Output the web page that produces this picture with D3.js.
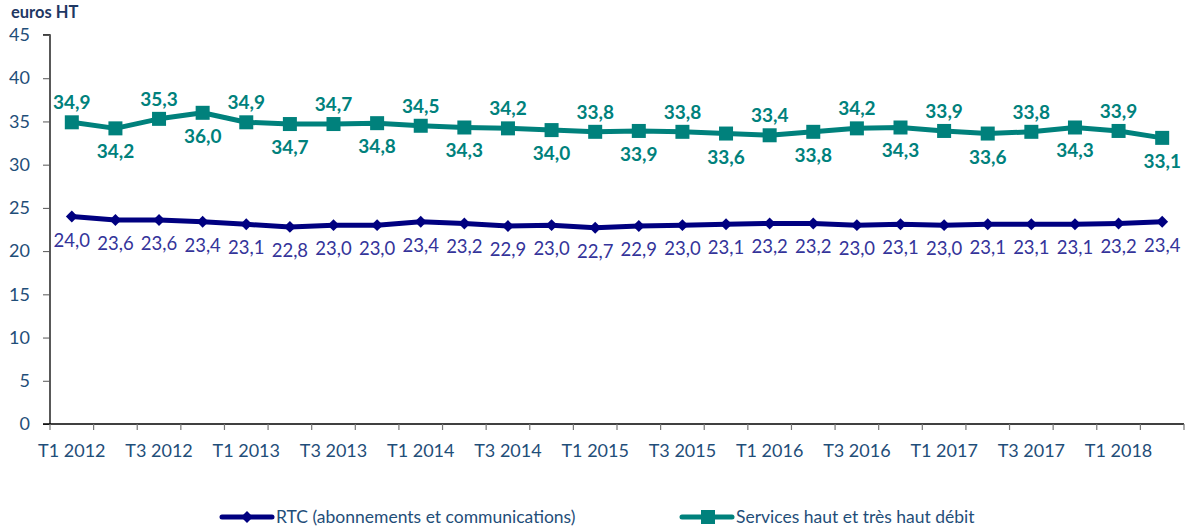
<!DOCTYPE html>
<html><head><meta charset="utf-8">
<script src="https://cdn.jsdelivr.net/npm/d3@7"></script>
<style>
html,body{margin:0;padding:0;background:#fff;}
svg{display:block;font-family:Lato,"Open Sans",sans-serif;}
</style></head>
<body><svg id="c" width="1193" height="532"></svg>
<script>
const quarters = ["T1 2012","T2 2012","T3 2012","T4 2012","T1 2013","T2 2013","T3 2013","T4 2013",
"T1 2014","T2 2014","T3 2014","T4 2014","T1 2015","T2 2015","T3 2015","T4 2015",
"T1 2016","T2 2016","T3 2016","T4 2016","T1 2017","T2 2017","T3 2017","T4 2017",
"T1 2018","T2 2018"];
const rtcValues = [24.0,23.6,23.6,23.4,23.1,22.8,23.0,23.0,23.4,23.2,22.9,23.0,22.7,22.9,23.0,23.1,23.2,23.2,23.0,23.1,23.0,23.1,23.1,23.1,23.2,23.4];
const hdValues = [34.9,34.2,35.3,36.0,34.9,34.7,34.7,34.8,34.5,34.3,34.2,34.0,33.8,33.9,33.8,33.6,33.4,33.8,34.2,34.3,33.9,33.6,33.8,34.3,33.9,33.1];
const yTicks = [0,5,10,15,20,25,30,35,40,45];
const seriesNames = ["RTC (abonnements et communications)","Services haut et très haut débit"];
const unitLabel = "euros HT";

const navy = "#000080", teal = "#00817C", axisText = "#1F4E79", rtcLabel = "#34349A";
const svg = d3.select("#c");
const x = d3.scaleBand().domain(quarters).range([50,1184]).paddingInner(0).paddingOuter(0);
const y = d3.scaleLinear().domain([0,45]).range([424,35]);
const cx = q => x(q) + x.bandwidth()/2;
const fmt = v => v.toFixed(1).replace(".", ",");

// Y axis
const ya = svg.append("g").attr("transform","translate(50,0)")
  .call(d3.axisLeft(y).tickValues(yTicks).tickSize(7).tickPadding(13).tickFormat(d3.format("d")));
ya.select(".domain").attr("stroke","#000").attr("stroke-width",1.3).attr("d","M-7,"+y(45)+"H0V"+y(0));
ya.selectAll(".tick line").attr("stroke","#555");
ya.selectAll(".tick text").attr("fill",axisText).attr("font-size",18).attr("font-family","Lato");

// X axis
const xa = svg.append("g").attr("transform","translate(0,424)")
  .call(d3.axisBottom(x).tickSize(0).tickPadding(20).tickFormat((d,i)=> i%2===0 ? d : ""));
xa.select(".domain").attr("stroke","#000").attr("stroke-width",1.3).attr("d","M43,0H1184");
xa.selectAll(".tick text").attr("fill",axisText).attr("font-size",18).attr("font-family","Lato");
const bounds = quarters.map(q=>x(q)).concat([x(quarters[quarters.length-1])+x.bandwidth()]);
xa.selectAll(".bt").data(bounds).enter().append("line")
  .attr("x1",d=>d).attr("x2",d=>d).attr("y1",0).attr("y2",6).attr("stroke","#777").attr("stroke-width",1.2);

// unit label
svg.append("text").attr("x",11).attr("y",18).text(unitLabel)
  .attr("font-size",16.5).attr("font-weight","bold").attr("fill","#1F3864");

// Lines
const line = vals => d3.line().x((d,i)=>cx(quarters[i])).y(d=>y(d))(vals);
svg.append("path").attr("d",line(hdValues)).attr("fill","none").attr("stroke",teal).attr("stroke-width",5).attr("stroke-linejoin","round");
svg.append("path").attr("d",line(rtcValues)).attr("fill","none").attr("stroke",navy).attr("stroke-width",5).attr("stroke-linejoin","round");

// markers
svg.selectAll(".sq").data(hdValues).enter().append("rect")
  .attr("x",(d,i)=>cx(quarters[i])-7).attr("y",d=>y(d)-7).attr("width",14).attr("height",14).attr("fill",teal);
const diamond = d3.symbol().type(d3.symbolDiamond2).size(90);
svg.selectAll(".dm").data(rtcValues).enter().append("path")
  .attr("d",diamond).attr("transform",(d,i)=>`translate(${cx(quarters[i])},${y(d)})`).attr("fill",navy);

// data labels
svg.selectAll(".hl").data(hdValues).enter().append("text")
  .attr("x",(d,i)=>cx(quarters[i])).attr("y",(d,i)=> i%2===0 ? y(d)-13 : y(d)+30)
  .attr("text-anchor","middle").attr("font-size",19).attr("font-weight","bold").attr("fill",teal)
  .text(d=>fmt(d));
svg.selectAll(".rl").data(rtcValues).enter().append("text")
  .attr("x",(d,i)=>cx(quarters[i])).attr("y",d=>y(d)+30)
  .attr("text-anchor","middle").attr("font-size",18.5).attr("fill",rtcLabel)
  .text(d=>fmt(d));

// legend
const lg = svg.append("g");
const items = [{name:seriesNames[0],color:navy,x0:222,type:"d"},{name:seriesNames[1],color:teal,x0:682,type:"s"}];
items.forEach(it=>{
  const ly = 517;
  lg.append("line").attr("x1",it.x0).attr("x2",it.x0+50).attr("y1",ly).attr("y2",ly).attr("stroke",it.color).attr("stroke-width",5).attr("stroke-linecap","round");
  if(it.type==="d") lg.append("path").attr("d",diamond).attr("transform",`translate(${it.x0+25},${ly})`).attr("fill",it.color);
  else lg.append("rect").attr("x",it.x0+19).attr("y",ly-7).attr("width",14).attr("height",14).attr("fill",it.color);
  lg.append("text").attr("x",it.x0+54).attr("y",ly+6).text(it.name).attr("font-size",17.5).attr("fill",axisText);
});
</script></body></html>
